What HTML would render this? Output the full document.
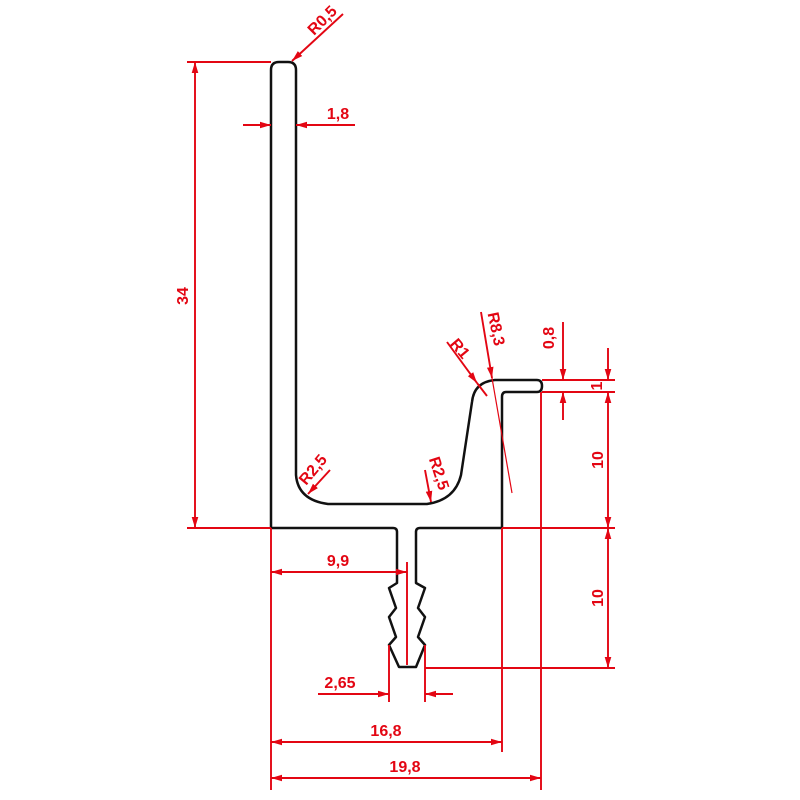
<!DOCTYPE html>
<html><head><meta charset="utf-8"><style>body{margin:0;background:#fff}svg{display:block}</style></head><body>
<svg width="800" height="800" viewBox="0 0 800 800" xmlns="http://www.w3.org/2000/svg">
<defs>
<marker id="a" viewBox="0 0 10 6" refX="10" refY="3" markerWidth="11" markerHeight="7" orient="auto-start-reverse" markerUnits="userSpaceOnUse"><path d="M0,0 L10,3 L0,6 z" fill="#e30613"/></marker>
</defs>
<g fill="none" stroke="#111" stroke-width="2.5" stroke-linejoin="round">
<path d="M271,528 L271,70 Q271,62 279,62 L288,62 Q296,62 296,70 L296,475 Q298,500 328,504 L427,504 Q455,500 461,475 L472,402 Q474,382 495,380 L537,380 Q542,380 542,386 Q542,392 537,392 L506,392 Q502,392 502,397 L502,528 L420,528 Q416,528 416,532 L416,583 L425,588 L418,608 L425,617 L418,637 L425,645 L416,667 L399,667 L389,645 L396,637 L389,617 L396,608 L389,588 L397,583 L397,532 Q397,528 393,528 Z"/>
</g>
<g stroke="#e30613" stroke-width="1.9" fill="none">
<line x1="187" y1="62" x2="271" y2="62"/><line x1="187" y1="528" x2="271" y2="528"/>
<line x1="195" y1="62" x2="195" y2="528" marker-start="url(#a)" marker-end="url(#a)"/>
<line x1="243" y1="125" x2="271" y2="125" marker-end="url(#a)"/>
<line x1="355" y1="125" x2="296" y2="125" marker-end="url(#a)"/>
<line x1="343" y1="14" x2="292" y2="61" marker-end="url(#a)"/>
<line x1="542" y1="380" x2="615" y2="380"/><line x1="542" y1="392" x2="615" y2="392"/>
<line x1="502" y1="528" x2="615" y2="528"/><line x1="425" y1="668" x2="615" y2="668"/>
<line x1="608" y1="348" x2="608" y2="380" marker-end="url(#a)"/>
<line x1="608" y1="392" x2="608" y2="528" marker-start="url(#a)" marker-end="url(#a)"/>
<line x1="608" y1="528" x2="608" y2="668" marker-start="url(#a)" marker-end="url(#a)"/>
<line x1="563" y1="322" x2="563" y2="380" marker-end="url(#a)"/>
<line x1="563" y1="420" x2="563" y2="392" marker-end="url(#a)"/>
<line x1="447" y1="342" x2="477" y2="383" marker-end="url(#a)"/>
<line x1="477" y1="383" x2="487" y2="396"/>
<line x1="481" y1="312" x2="492" y2="378" marker-end="url(#a)"/>
<line x1="492" y1="378" x2="512" y2="493" stroke-width="1.2"/>
<line x1="330" y1="470" x2="308" y2="494" marker-end="url(#a)"/>
<line x1="425" y1="470" x2="431" y2="502" marker-end="url(#a)"/>
<line x1="271" y1="528" x2="271" y2="790"/><line x1="502" y1="528" x2="502" y2="752"/>
<line x1="541" y1="392" x2="541" y2="790"/>
<line x1="407" y1="562" x2="407" y2="665"/>
<line x1="271" y1="572" x2="407" y2="572" marker-start="url(#a)" marker-end="url(#a)"/>
<line x1="389" y1="645" x2="389" y2="702"/><line x1="425" y1="645" x2="425" y2="702"/>
<line x1="318" y1="694" x2="389" y2="694" marker-end="url(#a)"/>
<line x1="453" y1="694" x2="425" y2="694" marker-end="url(#a)"/>
<line x1="271" y1="742" x2="502" y2="742" marker-start="url(#a)" marker-end="url(#a)"/>
<line x1="271" y1="778" x2="541" y2="778" marker-start="url(#a)" marker-end="url(#a)"/>
</g>
<g fill="#e30613" font-family="Liberation Sans, sans-serif" font-size="16" font-weight="bold" text-anchor="middle">
<text x="0" y="0" transform="translate(188,296) rotate(-90)">34</text>
<text x="338" y="119">1,8</text>
<text x="0" y="0" transform="translate(326,24) rotate(-45)">R0,5</text>
<text x="0" y="0" transform="translate(603,460) rotate(-90)">10</text>
<text x="0" y="0" transform="translate(603,598) rotate(-90)">10</text>
<text x="0" y="0" transform="translate(602,386) rotate(-90)">1</text>
<text x="0" y="0" transform="translate(554,338) rotate(-90)">0,8</text>
<text x="0" y="0" transform="translate(456,352) rotate(50)">R1</text>
<text x="0" y="0" transform="translate(491,330) rotate(78)">R8,3</text>
<text x="0" y="0" transform="translate(317,473) rotate(-50)">R2,5</text>
<text x="0" y="0" transform="translate(434,475) rotate(72)">R2,5</text>
<text x="338" y="566">9,9</text>
<text x="340" y="688">2,65</text>
<text x="386" y="736">16,8</text>
<text x="405" y="772">19,8</text>
</g>
</svg>
</body></html>
